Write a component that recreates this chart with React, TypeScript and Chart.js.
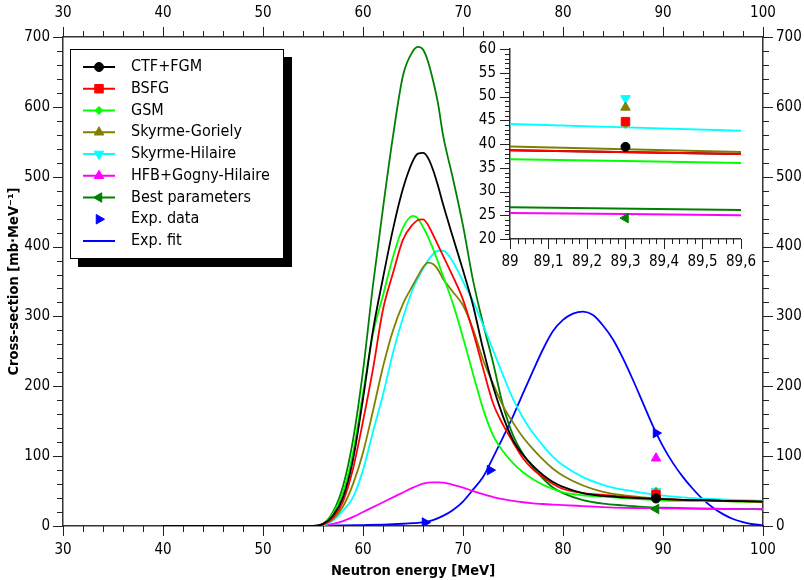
import React, { useEffect, useRef } from 'react';
import { Chart, registerables } from 'chart.js';

Chart.register(...registerables);

const FONT = '"DejaVu Sans Condensed", "DejaVu Sans", Verdana, sans-serif';

// ---------------- data ----------------
const energy = [40, 50, 55, 56, 57, 58, 59, 60, 61, 62, 63, 64, 65, 65.5, 66, 66.5, 67, 67.5, 68, 69, 70, 71, 72, 73, 74, 75, 76, 77, 78, 79, 80, 82, 84, 86, 88, 90, 92, 94, 96, 98, 100];

const ctfFgm = [0, 0, 0, 3, 15, 41, 95, 182, 280, 355, 425, 483, 523, 533, 534, 527, 510, 487, 461, 413, 366, 316, 254, 200, 157, 123, 102, 86, 73, 63, 56, 47, 43, 41, 39.5, 38.5, 37.5, 37, 36, 35.5, 35];
const bsfg = [0, 0, 0, 2, 12, 35, 82, 150, 225, 310, 362, 410, 432, 438, 439, 431, 417, 402, 387, 357, 324, 278, 226, 176, 145, 120, 97, 81, 70, 60, 53, 47, 44.5, 42, 40, 38.5, 37.5, 37, 36, 35.5, 35];
const gsm = [0, 0, 0, 3, 18, 48, 105, 190, 275, 330, 385, 427, 444, 440, 428, 414, 397, 378, 358, 318, 270, 218, 168, 130, 107, 90, 77, 67, 59, 53, 48, 44, 42, 40, 38, 36.5, 36, 35.5, 35.5, 35, 35];
const skyrmeGoriely = [0, 0, 0, 2, 10, 28, 60, 105, 165, 228, 280, 318, 345, 358, 370, 377, 375, 367, 354, 335, 316, 282, 238, 204, 172, 148, 127, 110, 95, 82, 72, 58, 49, 44, 41, 39, 37.5, 36.5, 35.5, 35, 34];
const skyrmeHilaire = [0, 0, 0, 1, 8, 22, 41, 80, 135, 188, 248, 298, 340, 355, 368, 380, 389, 394, 394, 378, 350, 322, 288, 252, 216, 182, 155, 133, 115, 99, 87, 70, 59, 52, 47.5, 43.5, 41, 39, 38, 37, 36];
const hfbGognyHilaire = [0, 0, 0, 0.5, 3, 7, 13, 20, 27, 34, 41, 48, 55, 58, 60.5, 62, 62.5, 62.5, 62, 59, 55, 50, 45.5, 41.5, 38.5, 36, 34, 32.5, 31.5, 30.5, 30, 28.5, 27, 26, 25.7, 25.3, 25, 24.7, 24.5, 24.2, 24];
const bestParameters = [0, 0, 0, 3, 20, 57, 123, 222, 345, 455, 558, 645, 680, 686, 682, 665, 638, 605, 560, 497, 430, 352, 290, 234, 173, 130, 103, 84, 68, 55, 47, 37, 32, 29.5, 27.5, 26.3, 25.6, 25, 24.6, 24.2, 24];

// experimental fit on its own energy grid
const fitEnergy = [40, 50, 55, 58, 60, 62, 64, 65, 66, 67, 68, 69, 70, 71, 72, 73, 74, 75, 76, 77, 78, 79, 80, 81, 82, 83, 84, 85, 86, 87, 88, 89, 90, 91, 92, 93, 94, 95, 96, 97, 98, 99, 100];
const expFit = [0, 0, 0.3, 0.7, 1.3, 2, 3.2, 4, 5.2, 8.5, 14.5, 23, 35, 52, 70, 98, 127, 157, 190, 222, 253, 279, 295, 304, 307, 302, 287, 267, 240, 209, 176, 143, 114, 90, 70, 53, 38, 26, 17, 10, 5.5, 2.5, 1];

// model values at the single calculated energy
const modelPointEnergy = 89.3;
const modelPointValues = [39.4, 44.7, 44.1, 47.7, 49.6, 97, 24.4];

// experimental data
const expDataEnergy = [66.2, 72.7, 89.3];
const expDataValues = [5, 80, 133];

// inset (zoom 89 - 89.6 MeV)
const insetEnergy = [89, 89.6];
const insetCtfFgm = [38.7, 37.9];
const insetBsfg = [38.7, 37.9];
const insetGsm = [36.8, 36.0];
const insetSkyrmeGoriely = [39.5, 38.3];
const insetSkyrmeHilaire = [44.2, 42.8];
const insetHfbGognyHilaire = [25.5, 25.0];
const insetBestParameters = [26.7, 26.1];

// ---------------- styles ----------------
const models = [
  { label: 'CTF+FGM', color: '#000000', style: 'circle', rot: 0, r: 4.5, main: ctfFgm, inset: insetCtfFgm },
  { label: 'BSFG', color: '#ff0000', style: 'rect', rot: 0, r: 6, main: bsfg, inset: insetBsfg },
  { label: 'GSM', color: '#00ff00', style: 'rectRot', rot: 0, r: 4, main: gsm, inset: insetGsm },
  { label: 'Skyrme-Goriely', color: '#808000', style: 'triangle', rot: 0, r: 5.5, main: skyrmeGoriely, inset: insetSkyrmeGoriely },
  { label: 'Skyrme-Hilaire', color: '#00ffff', style: 'triangle', rot: 180, r: 5.5, main: skyrmeHilaire, inset: insetSkyrmeHilaire },
  { label: 'HFB+Gogny-Hilaire', color: '#ff00ff', style: 'triangle', rot: 0, r: 5.5, main: hfbGognyHilaire, inset: insetHfbGognyHilaire },
  { label: 'Best parameters', color: '#008000', style: 'triangle', rot: 270, r: 5.5, main: bestParameters, inset: insetBestParameters },
];
const EXP_COLOR = '#0000ff';

function drawMarker(ctx: CanvasRenderingContext2D, style: string, rotDeg: number, radius: number, x: number, y: number, color: string) {
  ctx.save();
  ctx.fillStyle = color;
  ctx.strokeStyle = color;
  ctx.lineWidth = 1;
  ctx.beginPath();
  if (style === 'circle') {
    ctx.arc(x, y, radius, 0, Math.PI * 2);
  } else if (style === 'rect') {
    const s = Math.SQRT1_2 * radius;
    ctx.rect(x - s, y - s, 2 * s, 2 * s);
  } else if (style === 'rectRot') {
    ctx.moveTo(x, y - radius);
    ctx.lineTo(x + radius, y);
    ctx.lineTo(x, y + radius);
    ctx.lineTo(x - radius, y);
    ctx.closePath();
  } else {
    let a = (rotDeg * Math.PI) / 180;
    ctx.moveTo(x + Math.sin(a) * radius, y - Math.cos(a) * radius);
    a += (2 * Math.PI) / 3;
    ctx.lineTo(x + Math.sin(a) * radius, y - Math.cos(a) * radius);
    a += (2 * Math.PI) / 3;
    ctx.lineTo(x + Math.sin(a) * radius, y - Math.cos(a) * radius);
    ctx.closePath();
  }
  ctx.fill();
  ctx.stroke();
  ctx.restore();
}

// ticks with major/minor lengths, drawn outside the frame
const frameTicks = {
  id: 'frameTicks',
  afterDraw(chart: any, _args: any, opts: any) {
    const ctx = chart.ctx as CanvasRenderingContext2D;
    const area = chart.chartArea;
    ctx.save();
    ctx.strokeStyle = '#222';
    ctx.lineWidth = 1;
    for (const a of opts.axes) {
      const s = chart.scales[a.id];
      const n = Math.round((s.max - s.min) / a.minor);
      for (let i = 0; i <= n; i++) {
        const v = s.min + i * a.minor;
        const r = v / a.major;
        const isMajor = Math.abs(r - Math.round(r)) < 1e-6;
        const len = isMajor ? opts.majorLen : opts.minorLen;
        const p = Math.round(s.getPixelForValue(v)) + 0.5;
        ctx.beginPath();
        if (s.position === 'bottom') {
          ctx.moveTo(p, area.bottom);
          ctx.lineTo(p, area.bottom + len);
        } else if (s.position === 'top') {
          ctx.moveTo(p, area.top);
          ctx.lineTo(p, area.top - len);
        } else if (s.position === 'left') {
          ctx.moveTo(area.left, p);
          ctx.lineTo(area.left - len, p);
        } else {
          ctx.moveTo(area.right, p);
          ctx.lineTo(area.right + len, p);
        }
        ctx.stroke();
      }
    }
    ctx.restore();
  },
};

// boxed legend with drop shadow
const boxLegend = {
  id: 'boxLegend',
  afterDraw(chart: any) {
    const ctx = chart.ctx as CanvasRenderingContext2D;
    const x = 70, y = 49, w = 214, h = 210, sh = 8;
    ctx.save();
    ctx.fillStyle = '#000';
    ctx.fillRect(x + sh, y + sh, w, h);
    ctx.fillStyle = '#fff';
    ctx.fillRect(x, y, w, h);
    ctx.strokeStyle = '#000';
    ctx.lineWidth = 1;
    ctx.strokeRect(x + 0.5, y + 0.5, w - 1, h - 1);
    const items = [
      ...models.map((m) => ({ label: m.label, color: m.color, line: true, style: m.style, rot: m.rot, r: m.r })),
      { label: 'Exp. data', color: EXP_COLOR, line: false, style: 'triangle', rot: 90, r: 5.5 },
      { label: 'Exp. fit', color: EXP_COLOR, line: true, style: '', rot: 0, r: 0 },
    ];
    const x0 = 83, x1 = 115, tx = 131;
    items.forEach((it, i) => {
      const cy = y + 18 + i * 21.75;
      if (it.line) {
        ctx.strokeStyle = it.color;
        ctx.lineWidth = 2;
        ctx.beginPath();
        ctx.moveTo(x0, cy);
        ctx.lineTo(x1, cy);
        ctx.stroke();
      }
      if (it.style) drawMarker(ctx, it.style, it.rot, it.r, (x0 + x1) / 2, cy, it.color);
      ctx.fillStyle = '#000';
      ctx.font = `16px ${FONT}`;
      ctx.textBaseline = 'middle';
      ctx.textAlign = 'left';
      ctx.fillText(it.label, tx, cy);
    });
    ctx.restore();
  },
};

const tickFont = { family: FONT, size: 15 };
const titleFont = { family: FONT, size: 14.5, weight: 'bold' as const };
const borderOpt = { display: true, color: '#333', width: 1.5 };
const gridOpt = { display: false, drawTicks: false };

function lineDs(label: string, xs: number[], ys: number[], color: string, width: number, order: number) {
  return {
    label,
    data: xs.map((x, i) => ({ x, y: ys[i] })),
    borderColor: color,
    backgroundColor: color,
    borderWidth: width,
    pointRadius: 0,
    fill: false,
    tension: 0.4,
    cubicInterpolationMode: 'monotone' as const,
    order,
  };
}

function pointDs(label: string, xs: number[], ys: number[], color: string, style: string, rot: number, r: number) {
  return {
    label,
    data: xs.map((x, i) => ({ x, y: ys[i] })),
    showLine: false,
    borderColor: color,
    backgroundColor: color,
    pointStyle: style,
    pointRotation: rot,
    pointRadius: r,
    pointBorderWidth: 1,
    pointBackgroundColor: color,
    pointBorderColor: color,
    order: 0,
  };
}

function mainConfig(): any {
  const datasets: any[] = [];
  models.forEach((m) => datasets.push(lineDs(m.label, energy, m.main, m.color, 1.8, 1)));
  datasets.push(lineDs('Exp. fit', fitEnergy, expFit, EXP_COLOR, 1.8, 1));
  models.forEach((m, i) => datasets.push(pointDs(m.label + ' pt', [modelPointEnergy], [modelPointValues[i]], m.color, m.style, m.rot, m.r)));
  datasets.push(pointDs('Exp. data', expDataEnergy, expDataValues, EXP_COLOR, 'triangle', 90, 5.5));

  const xTicks = { stepSize: 10, padding: 15, font: tickFont, color: '#000', maxRotation: 0, autoSkip: false };
  const yTicks = { stepSize: 100, padding: 13, font: tickFont, color: '#000', autoSkip: false };
  return {
    type: 'line',
    data: { datasets },
    options: {
      animation: false,
      responsive: false,
      maintainAspectRatio: false,
      layout: { padding: 0 },
      scales: {
        x: {
          type: 'linear', position: 'bottom', min: 30, max: 100, grid: gridOpt, border: borderOpt, ticks: xTicks,
          title: { display: true, text: 'Neutron energy [MeV]', font: titleFont, color: '#000', padding: { top: 0, bottom: 0 } },
          afterFit: (s: any) => { s.height = 54; },
        },
        x2: {
          type: 'linear', position: 'top', min: 30, max: 100, grid: gridOpt, border: borderOpt, ticks: xTicks,
          afterFit: (s: any) => { s.height = 37; },
        },
        y: {
          type: 'linear', position: 'left', min: 0, max: 700, grid: gridOpt, border: borderOpt, ticks: yTicks,
          title: { display: true, text: 'Cross-section [mb·MeV⁻¹]', font: titleFont, color: '#000', padding: { top: 5.5, bottom: 0 } },
          afterFit: (s: any) => { s.width = 63; },
        },
        y2: {
          type: 'linear', position: 'right', min: 0, max: 700, grid: gridOpt, border: borderOpt, ticks: yTicks,
          afterFit: (s: any) => { s.width = 41; },
        },
      },
      plugins: {
        legend: { display: false },
        tooltip: { enabled: false },
        frameTicks: {
          majorLen: 10,
          minorLen: 6,
          axes: [
            { id: 'x', minor: 2, major: 10 },
            { id: 'x2', minor: 2, major: 10 },
            { id: 'y', minor: 20, major: 100 },
            { id: 'y2', minor: 20, major: 100 },
          ],
        },
      },
    },
    plugins: [frameTicks, boxLegend],
  };
}

function insetConfig(): any {
  const datasets: any[] = [];
  models.forEach((m, i) => datasets.push(lineDs(m.label, insetEnergy, m.inset, m.color, 2, i === 0 ? 2 : 1)));
  models.forEach((m, i) => datasets.push(pointDs(m.label + ' pt', [modelPointEnergy], [modelPointValues[i]], m.color, m.style, m.rot, m.r)));
  return {
    type: 'line',
    data: { datasets },
    options: {
      animation: false,
      responsive: false,
      maintainAspectRatio: false,
      layout: { padding: { top: 29, right: 22, left: 0, bottom: 0 } },
      scales: {
        x: {
          type: 'linear', position: 'bottom', min: 89, max: 89.6, grid: gridOpt, border: borderOpt,
          ticks: {
            stepSize: 0.1, padding: 14, font: tickFont, color: '#000', maxRotation: 0, autoSkip: false,
            callback: (v: number) => {
              const r = Math.round(v * 10) / 10;
              return Number.isInteger(r) ? String(r) : r.toFixed(1).replace('.', ',');
            },
          },
          afterFit: (s: any) => { s.height = 41; },
        },
        y: {
          type: 'linear', position: 'left', min: 20, max: 60, grid: gridOpt, border: borderOpt,
          ticks: { stepSize: 5, padding: 14, font: tickFont, color: '#000', autoSkip: false },
          afterFit: (s: any) => { s.width = 70; },
        },
      },
      plugins: {
        legend: { display: false },
        tooltip: { enabled: false },
        frameTicks: {
          majorLen: 10,
          minorLen: 5,
          axes: [
            { id: 'x', minor: 0.02, major: 0.1 },
            { id: 'y', minor: 1, major: 5 },
          ],
        },
      },
    },
    plugins: [frameTicks],
  };
}

export default function App() {
  const mainRef = useRef<HTMLCanvasElement>(null);
  const insetRef = useRef<HTMLCanvasElement>(null);
  useEffect(() => {
    document.body.style.margin = '0';
    const main = new Chart(mainRef.current as HTMLCanvasElement, mainConfig());
    const inset = new Chart(insetRef.current as HTMLCanvasElement, insetConfig());
    return () => {
      main.destroy();
      inset.destroy();
    };
  }, []);
  return (
    <div style={{ position: 'relative', width: 804, height: 580, background: '#fff' }}>
      <canvas ref={mainRef} width={804} height={580} style={{ display: 'block', width: 804, height: 580 }} />
      <canvas
        ref={insetRef}
        width={330}
        height={260}
        style={{ position: 'absolute', left: 440, top: 20, width: 330, height: 260 }}
      />
    </div>
  );
}
